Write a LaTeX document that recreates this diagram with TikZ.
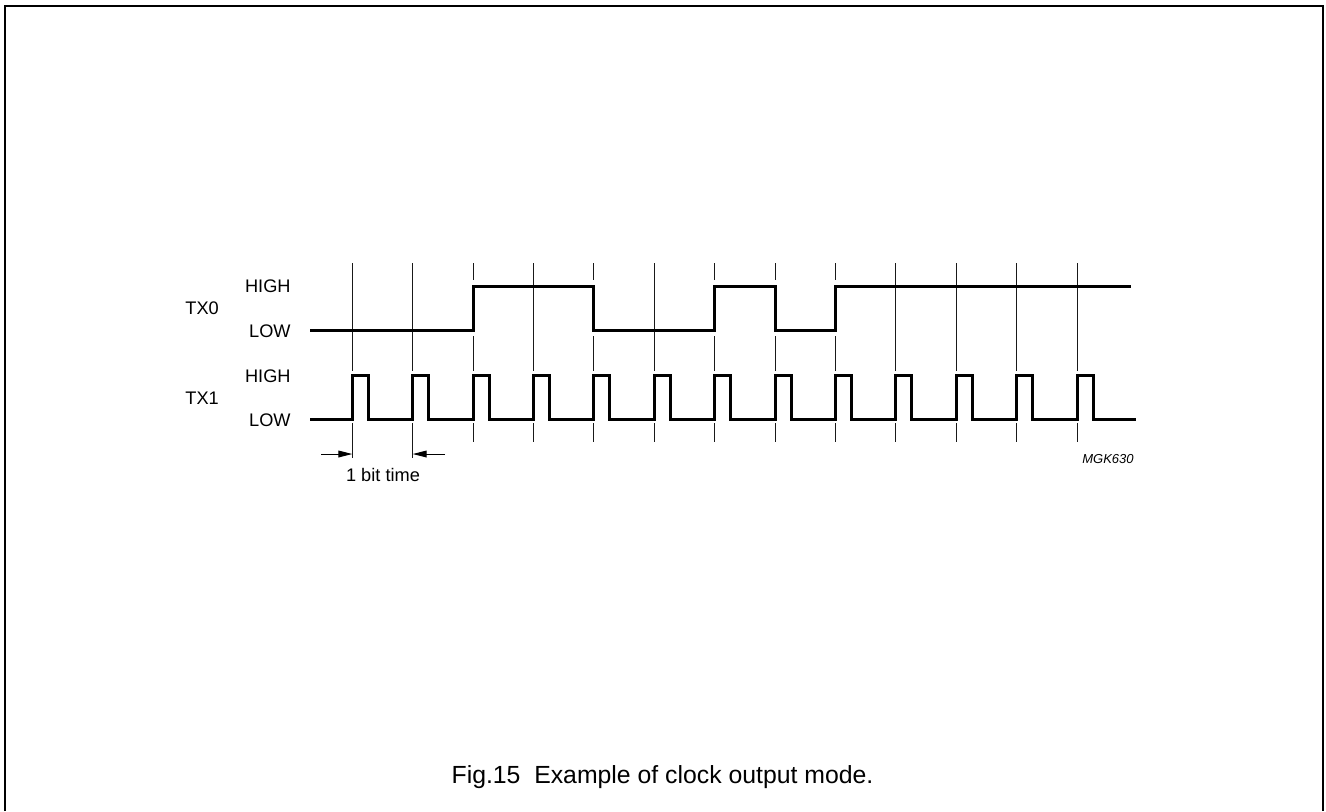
\documentclass[tikz,border=0pt]{standalone}
\usepackage{fontspec}
\setmainfont{Liberation Sans}
\usetikzlibrary{arrows.meta}
\tikzset{
    wave/.style={line width=1.5pt,line join=miter},
    gridline/.style={line width=0.5pt,black!90},
    levellabel/.style={anchor=east,inner sep=0pt,font=\fontsize{9.1}{11}\selectfont},
    signallabel/.style={anchor=west,inner sep=0pt,font=\fontsize{9.1}{11}\selectfont},
    bitarrow/.style={-{Triangle[length=7pt,width=3.4pt]},line width=0.5pt},
    codelabel/.style={anchor=base east,inner sep=0pt,font=\fontsize{6.5}{8}\selectfont\itshape},
    caption/.style={anchor=base,inner sep=0pt,font=\fontsize{12.4}{14}\selectfont}
}

\begin{document}
\begin{tikzpicture}[x=0.5pt,y=-0.5pt]
\useasboundingbox (0,0) rectangle (1326,811);
\draw[line width=1.1pt] (5,811) -- (5,6) -- (1323,6) -- (1323,811);

% bit boundaries without TX0 edge
\foreach \k in {0,1,3,5,9,10,11,12} {
    \pgfmathsetmacro\bx{352.3+60.4*\k}
    \draw[gridline] (\bx,263) -- (\bx,371);
}
% bit boundaries with TX0 edge
\foreach \k in {2,4,6,7,8} {
    \pgfmathsetmacro\bx{352.3+60.4*\k}
    \draw[gridline] (\bx,263) -- (\bx,280);
    \draw[gridline] (\bx,336) -- (\bx,371);
}
% below TX1
\foreach \k in {2,...,12} {
    \pgfmathsetmacro\bx{352.3+60.4*\k}
    \draw[gridline] (\bx,423) -- (\bx,442);
}
\draw[gridline] (352.3,423) -- (352.3,458);
\draw[gridline] (412.7,423) -- (412.7,458);

% waveforms
\draw[wave] (310,330) -| (473.1,286) -| (593.9,330) -| (714.7,286)
    -| (775.1,330) -| (835.5,286) -- (1131,286);
\draw[wave] (310,419) \foreach \k in {0,...,12} {
    -- ({352.3+60.4*\k},419) -- ++(0,-44) -- ++(16,0) -- ++(0,44)
    } -- (1136,419);

\node[signallabel] (tx0) at (185,308) {TX0};
\node[levellabel] (tx0high) at (291,286) {HIGH};
\node[levellabel] (tx0low) at (291,331) {LOW};
\node[signallabel] (tx1) at (185,398) {TX1};
\node[levellabel] (tx1high) at (291,376) {HIGH};
\node[levellabel] (tx1low) at (291,420) {LOW};

\coordinate (bitstartL) at (321,454);
\coordinate (bitstart) at (352.3,454);
\coordinate (bitendR) at (445,454);
\coordinate (bitend) at (412.7,454);
\draw[bitarrow] (bitstartL) -- (bitstart);
\draw[bitarrow] (bitendR) -- (bitend);
\node[inner sep=0pt,font=\fontsize{9.1}{11}\selectfont] (bittime) at (383,475) {1 bit time};

\node[codelabel] (code) at (1134,463) {MGK630};
\node[caption] (fig) at (662.5,783) {Fig.15\ \ Example of clock output mode.};
\end{tikzpicture}
\end{document}
